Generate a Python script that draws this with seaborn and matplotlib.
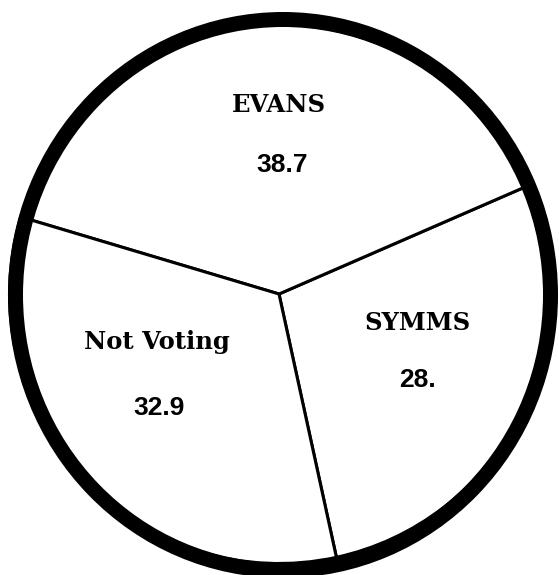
import matplotlib
matplotlib.use("Agg")
import matplotlib.pyplot as plt
import seaborn as sns
from matplotlib.patches import Ellipse

# Data (counter-clockwise order starting at the bottom boundary)
categories = ["SYMMS", "EVANS", "Not Voting"]
values = [28.0, 38.7, 32.9]
value_labels = ["28.", "38.7", "32.9"]

sns.set_theme(style="white")

W, H = 559, 575
fig = plt.figure(figsize=(W / 100, H / 100), dpi=100)
ax = fig.add_axes([0, 0, 1, 1])

# pie hub (pixel coords, y measured from bottom)
px, py = 279, H - 294

wedges, _ = ax.pie(
    values,
    colors=["white"] * len(values),
    startangle=-77.7,
    counterclock=True,
    center=(px, py),
    radius=269.5,
    wedgeprops=dict(edgecolor="black", linewidth=2.2),
)

# thick outer ring (slightly oval, as in the scanned original)
ax.add_patch(Ellipse((283, H - 295), 2 * 267.5, 2 * 275.5, fill=False,
                     edgecolor="black", linewidth=10.8, zorder=5))

ax.set_xlim(0, W)
ax.set_ylim(0, H)
ax.set_aspect("auto")
ax.axis("off")

name_font = dict(family="DejaVu Serif", fontweight="bold", fontsize=17.5, color="black")
num_font = dict(family="Liberation Sans", fontweight="bold", fontsize=19, color="black")

# label positions in pixel coordinates (x, baseline y from top)
name_pos = {"EVANS": (279, 112), "SYMMS": (418, 330), "Not Voting": (157, 349)}
num_pos = {"EVANS": (282, 172), "SYMMS": (417, 387), "Not Voting": (159, 415)}

for cat, lab in zip(categories, value_labels):
    x, y = name_pos[cat]
    ax.text(x, H - y, cat, ha="center", va="baseline", **name_font)
    x, y = num_pos[cat]
    ax.text(x, H - y, lab, ha="center", va="baseline", **num_font)

fig.savefig("out.png", dpi=100, facecolor="white")
